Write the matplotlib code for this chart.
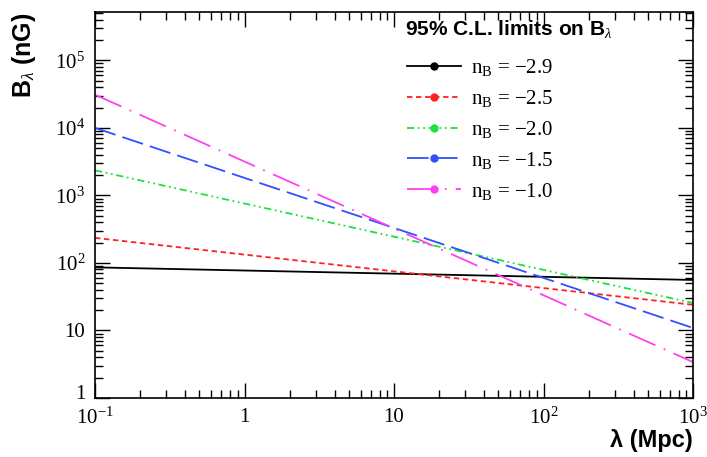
import matplotlib
matplotlib.use("Agg")
import matplotlib.pyplot as plt
import matplotlib.transforms as mtransforms
import numpy as np
from matplotlib.lines import Line2D
from matplotlib.ticker import LogLocator, NullFormatter

plt.rcParams["font.family"] = ["Liberation Serif", "DejaVu Serif"]
plt.rcParams["mathtext.fontset"] = "custom"
plt.rcParams["mathtext.rm"] = "Liberation Serif"
plt.rcParams["mathtext.it"] = "Liberation Serif:italic"
plt.rcParams["mathtext.bf"] = "Liberation Serif:bold"

# endpoints of each 95% C.L. limit line (straight on log-log axes)
lam = [0.1, 1000.0]
b_m29 = [86, 56]
b_m25 = [235, 24]
b_m20 = [2350, 25.5]
b_m15 = [10000, 10.9]
b_m10 = [31000, 3.4]

labels = ["$\\mathrm{n_B}$ = \u22122.9", "$\\mathrm{n_B}$ = \u22122.5",
          "$\\mathrm{n_B}$ = \u22122.0", "$\\mathrm{n_B}$ = \u22121.5",
          "$\\mathrm{n_B}$ = \u22121.0"]
series = [b_m29, b_m25, b_m20, b_m15, b_m10]
colors = ["black", "#ff2020", "#20e040", "#3050ff", "#ff40f0"]
dashes = [None, (3, 2), (4, 2, 1, 2, 1, 2), (12, 4), (16, 5, 1, 5)]

x_ticks = [0.1, 1, 10, 100, 1000]
x_labels = ["10$^{\u22121}$", "1", "10", "10$^{2}$", "10$^{3}$"]
y_ticks = [1, 10, 100, 1e3, 1e4, 1e5]
y_labels = ["1", "10", "10$^{2}$", "10$^{3}$", "10$^{4}$", "10$^{5}$"]

fig = plt.figure(figsize=(7.07, 4.57), dpi=100)
ax = fig.add_axes([95 / 707, 59 / 457, 598 / 707, 386 / 457])

handles = []
for y, c, d, lab in zip(series, colors, dashes, labels):
    ln, = ax.plot(lam, y, color=c, lw=1.3)
    if d is not None:
        ln.set_dashes(d)
    h = Line2D([], [], color=c, lw=1.3, marker="o", markersize=5)
    if d is not None:
        h.set_dashes(d)
    h.set_label(lab)
    handles.append(h)

ax.set_xscale("log")
ax.set_yscale("log")
ax.set_xlim(0.1, 1000)
ax.set_ylim(1, 5.2e5)

ax.set_xticks(x_ticks)
ax.set_xticklabels(x_labels)
ax.set_yticks(y_ticks)
ax.set_yticklabels(y_labels)
ax.xaxis.set_minor_locator(LogLocator(base=10, subs=np.arange(2, 10), numticks=100))
ax.yaxis.set_minor_locator(LogLocator(base=10, subs=np.arange(2, 10), numticks=100))
ax.xaxis.set_minor_formatter(NullFormatter())
ax.yaxis.set_minor_formatter(NullFormatter())
ax.tick_params(which="both", direction="in", top=True, right=True, labelsize=15, width=1.0)
ax.tick_params(which="major", length=11)
ax.tick_params(which="minor", length=6)
ax.tick_params(axis="x", which="major", pad=7)
ax.tick_params(axis="y", which="major", pad=7)
for s in ax.spines.values():
    s.set_linewidth(1.2)

# nudge the lowest y label up a little so it clears the 10^-1 label
lbl = ax.get_yticklabels()[0]
lbl.set_transform(lbl.get_transform() + mtransforms.ScaledTranslation(0, 4 / 72, fig.dpi_scale_trans))

bold_sans = ["Liberation Sans", "DejaVu Sans"]
fig.text(693 / 707, 1 - 441 / 457, "\u03bb (Mpc)", ha="right", va="center",
         fontsize=17, fontweight="bold", family=bold_sans)
fig.text(24 / 707, 1 - 12 / 457, "B$_{\\lambda}$ (nG)", ha="center", va="top", rotation=90,
         fontsize=18, fontweight="bold", family=bold_sans)

# legend header
fig.text(405 / 707, 1 - 29 / 457, "95% C.L. limits on B$_{\\lambda}$", ha="left", va="center",
         fontsize=15, fontweight="bold", family=bold_sans)

leg = ax.legend(handles=handles, loc="upper left", bbox_to_anchor=(0.49, 0.931),
                frameon=False, fontsize=15, numpoints=1, handlelength=2.6,
                handletextpad=0.5, labelspacing=0.47)

fig.savefig("out.png", dpi=100)
